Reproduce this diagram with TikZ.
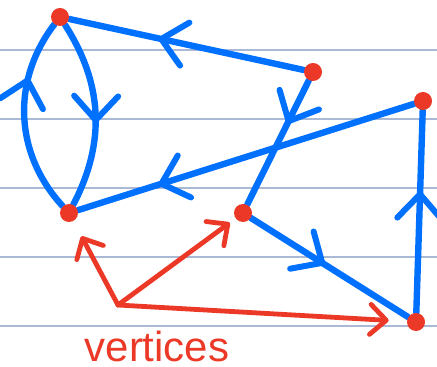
\documentclass[tikz,border=0pt]{standalone}
\usepackage{fontspec}
\setmainfont{Liberation Sans}
\usetikzlibrary{arrows.meta,decorations.markings}
\definecolor{penblue}{RGB}{0,112,255}
\definecolor{penred}{RGB}{236,56,38}
\definecolor{ruled}{RGB}{170,186,214}
\pgfdeclarelayer{bg}
\pgfsetlayers{bg,main}
\tikzset{
  vertex/.style={circle,fill=penred,inner sep=0pt,minimum size=9pt},
  edge/.style={penblue,line width=3.2pt,line cap=round},
  midarrow/.style={postaction={decorate},decoration={markings,
    mark=at position #1 with {\arrow{Straight Barb[length=12pt,width=22pt,line width=3pt,round]}}}},
  pointer/.style={penred,line width=2.4pt,line cap=round,
    -{Straight Barb[length=8pt,width=15pt,line width=2.4pt,round]}},
}

\begin{document}
\begin{tikzpicture}[x=0.5pt,y=0.5pt]
  \useasboundingbox (0,0) rectangle (437,-367);
  % the vertices
  \node[vertex] (A) at (60,-17) {};
  \node[vertex] (B) at (313,-72) {};
  \node[vertex] (C) at (423,-101) {};
  \node[vertex] (D) at (69,-213) {};
  \node[vertex] (E) at (243,-213) {};
  \node[vertex] (F) at (416,-322) {};
  \begin{pgfonlayer}{bg}
    % ruled paper
    \foreach \y in {50,119,188,257,326}
      \draw[ruled,line width=0.6pt] (0,-\y) -- (437,-\y);
    % directed edges
    \draw[edge,midarrow=0.62] (B) -- (A);
    \draw[edge,midarrow=0.55] (A) to[bend left=30] (D);
    \draw[edge,midarrow=0.7] (D) to[bend left=40] (A);
    \draw[edge,midarrow=0.35] (B) -- (E);
    \draw[edge,midarrow=0.76] (C) -- (D);
    \draw[edge,midarrow=0.47] (E) -- (F);
    \draw[edge,midarrow=0.6] (F) -- (C);
  \end{pgfonlayer}
  % label with pointers
  \coordinate (P) at (118,-305);
  \draw[pointer,shorten >=8.5pt] (P) -- (D);
  \draw[pointer,shorten >=3.5pt] (P) -- (E);
  \draw[pointer,shorten >=9pt] (P) -- (F);
  \node[text=penred,font=\fontsize{21}{24}\selectfont] (label) at (157,-346) {vertices};
\end{tikzpicture}
\end{document}
